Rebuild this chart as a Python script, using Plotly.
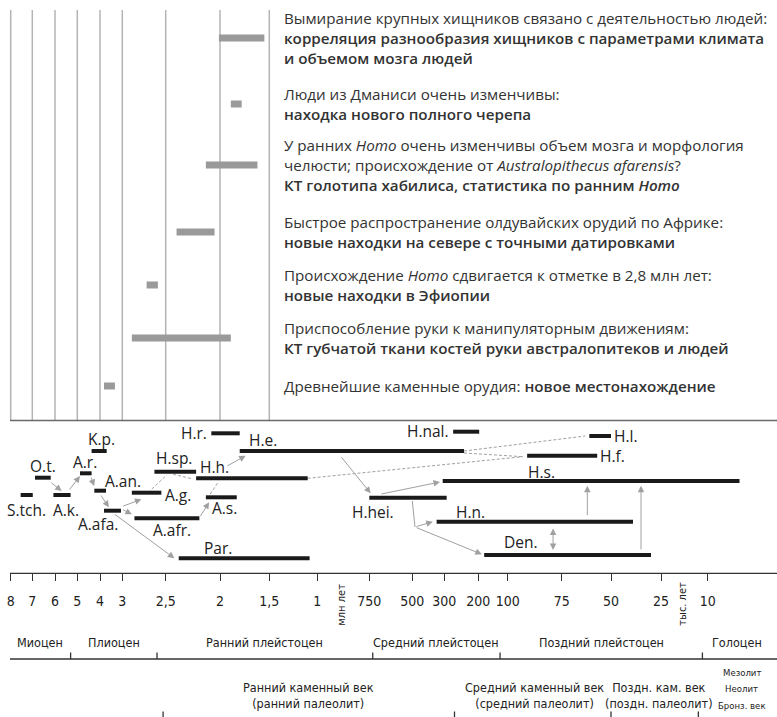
import numpy as np
import plotly.graph_objects as go

W, H = 777, 717

# ---------------- scale (ages in Ma) ----------------
tick_ages = [8, 7, 6, 5, 4, 3, 2.5, 2, 1.5, 1, 0.75, 0.5, 0.3, 0.2, 0.1, 0.075, 0.05, 0.025, 0.01]
tick_labels = ["8", "7", "6", "5", "4", "3", "2,5", "2", "1,5", "1",
               "750", "500", "300", "200", "100", "75", "50", "25", "10"]
grid_ages = [8, 7, 6, 5, 4, 3, 2.5, 2, 1.5]

# ---------------- events (top panel) ----------------
event_start = [2.01, 1.89, 2.13, 2.40, 2.72, 2.89, 3.82]
event_end = [1.55, 1.78, 1.62, 2.05, 2.59, 1.89, 3.33]
B = '<span style="font-weight:600">'
E = '</span>'
event_text = [
    "Вымирание крупных хищников связано с деятельностью людей:<br>" + B + "корреляция разнообразия хищников с параметрами климата" + E + "<br>" + B + "и объемом мозга людей" + E,
    "Люди из Дманиси очень изменчивы:<br>" + B + "находка нового полного черепа" + E,
    "У ранних <i>Homo</i> очень изменчивы объем мозга и морфология<br>челюсти; происхождение от <i>Australopithecus afarensis</i>?<br>" + B + "КТ голотипа хабилиса, статистика по ранним <i>Homo</i>" + E,
    "Быстрое распространение олдувайских орудий по Африке:<br>" + B + "новые находки на севере с точными датировками" + E,
    "Происхождение <i>Homo</i> сдвигается к отметке в 2,8 млн лет:<br>" + B + "новые находки в Эфиопии" + E,
    "Приспособление руки к манипуляторным движениям:<br>" + B + "КТ губчатой ткани костей руки австралопитеков и людей" + E,
    "Древнейшие каменные орудия: " + B + "новое местонахождение" + E,
]

# ---------------- species ranges ----------------
species = ["S.tch.", "O.t.", "A.k.", "A.r.", "K.p.", "A.an.", "A.afa.", "A.g.", "A.afr.", "Par.",
           "H.sp.", "H.h.", "A.s.", "H.r.", "H.e.", "H.hei.", "H.nal.", "H.n.", "Den.", "H.s.",
           "H.f.", "H.l."]
sp_start = [7.54, 6.88, 6.07, 4.88, 4.37, 4.25, 3.82, 2.89, 2.86, 2.38,
            2.63, 2.22, 2.13, 2.08, 1.80, 0.75, 0.274, 0.348, 0.180, 0.31,
            0.091, 0.061]
sp_end = [6.98, 6.19, 5.30, 4.37, 3.70, 3.73, 3.06, 2.55, 2.19, 1.08,
          2.22, 1.10, 1.83, 1.80, 0.242, 0.293, 0.197, 0.039, 0.030, 0.0,
          0.057, 0.050]

# ---------------- epochs & stone ages ----------------
epoch_names = ["Миоцен", "Плиоцен", "Ранний плейстоцен", "Средний плейстоцен",
               "Поздний плейстоцен", "Голоцен"]
epoch_bounds = [5.3, 2.6, 0.73, 0.126, 0.0117]
stone_names = ["Ранний каменный век<br>(ранний палеолит)",
               "Средний каменный век<br>(средний палеолит)",
               "Поздн. кам. век<br>(поздн. палеолит)"]
stone_bounds = [2.53, 0.27, 0.05, 0.013]
late_periods = ["Мезолит", "Неолит", "Бронз. век"]

# ---------------- layout helpers (positions) ----------------
tick_pos = [10.7, 32.3, 55, 77.3, 100, 122.3, 165.7, 220, 269.3, 317.3, 369.3,
            412.3, 444.3, 478.3, 507.7, 561.7, 611, 661, 707.7]
present_pos = 739.5


def pos(age):
    xp = -np.array(tick_ages + [0.0])
    fp = np.array(tick_pos + [present_pos])
    return float(np.interp(-age, xp, fp))


event_y = [38, 104, 165, 232, 285, 338, 386]
sp_y = [495, 477.7, 495, 473.3, 451, 490.7, 510.7, 492.7, 518.3, 558.3,
        471.7, 478.3, 497.3, 433.3, 451, 497.7, 431.7, 521.7, 555, 481,
        455.7, 436]
# label placement: (x, y, xanchor)
sp_label = [(26.3, 510, "center"), (42.8, 465.7, "center"), (65.8, 510, "center"),
            (85, 461.7, "center"), (101.7, 439, "center"), (123, 480.7, "center"),
            (98, 524, "center"), (178, 495, "center"), (172, 530, "center"),
            (217.5, 548, "center"), (174, 458.3, "center"), (214, 466.7, "center"),
            (224, 507.7, "center"), (208.5, 433, "right"), (263, 440, "center"),
            (373, 512, "center"), (451, 431, "right"), (470.5, 511.7, "center"),
            (521, 541.7, "center"), (541, 471.7, "center"), (598, 456, "left"),
            (612, 436, "left")]

# arrows: (from_age, from_y, to_age, to_y, kind)
arrows = [
    (6.22, 481.7, 5.70, 491, "solid"),
    (5.40, 491, 4.88, 476, "solid"),
    (4.41, 476, 4.26, 486, "solid"),
    (4.00, 494, 3.60, 507.3, "solid"),
    (3.03, 506.7, 2.78, 499.3, "solid"),
    (3.03, 509, 2.89, 514.3, "solid"),
    (3.40, 513.3, 2.42, 558.3, "solid"),
    (2.19, 517.7, 2.10, 502.3, "solid"),
    (1.94, 466.7, 1.74, 455.7, "solid"),
    (0.89, 455.7, 0.742, 493.3, "solid"),
    (0.688, 494.3, 0.327, 482, "solid"),
    (0.483, 527, 0.372, 521.7, "solid"),
    (0.483, 527, 0.188, 554.3, "solid"),
    (0.062, 516.7, 0.062, 485.7, "solid"),
    (0.035, 551, 0.035, 485.7, "solid"),
    (0.079, 527, 0.079, 550, "double"),
    (2.66, 489, 2.49, 475, "dashed"),
    (2.43, 474.3, 2.25, 479, "dashed"),
    (2.09, 494, 2.02, 482.7, "dashed"),
    (1.10, 478.3, 0.093, 456.7, "dashed"),
    (0.242, 453, 0.093, 456.7, "dashed"),
    (0.242, 451, 0.063, 436, "dashed"),
    (0.50, 501, 0.483, 527, "line"),
]

TXT_FONT = "'Open Sans', 'Noto Sans', sans-serif"
AX_FONT = "'Liberation Sans Narrow', 'DejaVu Sans Condensed', 'Roboto', sans-serif"
GRAY = "#9a9a9a"
ARROW = "#a0a0a0"

fig = go.Figure()
shapes = []
annotations = []

# top panel grid lines
for a in grid_ages:
    shapes.append(dict(type="line", xref="x", yref="y", x0=pos(a), x1=pos(a), y0=10, y1=420,
                       line=dict(color="#b4b4b4", width=1.5), layer="below"))
shapes.append(dict(type="line", xref="x", yref="y", x0=pos(8) - 0.7, x1=W, y0=420.5, y1=420.5,
                   line=dict(color="#6a6a6a", width=1.5)))

# event bars
ex, ey = [], []
for s, e, y in zip(event_start, event_end, event_y):
    ex += [pos(s), pos(e), None]
    ey += [y, y, None]
fig.add_trace(go.Scatter(x=ex, y=ey, mode="lines", line=dict(color=GRAY, width=7),
                         hoverinfo="skip", showlegend=False))
for t, y in zip(event_text, event_y):
    annotations.append(dict(x=282, y=y, xref="x", yref="y", text=t, showarrow=False,
                            xanchor="left", yanchor="middle", align="left",
                            font=dict(family=TXT_FONT, size=15.2, color="#333")))

# arrows
for a0, y0, a1, y1, kind in arrows:
    x0, x1 = pos(a0), pos(a1)
    if kind in ("dashed", "line"):
        fig.add_trace(go.Scatter(x=[x0, x1], y=[y0, y1], mode="lines",
                                 line=dict(color=ARROW, width=1, dash="3px,2px" if kind == "dashed" else "solid"),
                                 hoverinfo="skip", showlegend=False))
        if kind == "dashed":
            d = np.hypot(x1 - x0, y1 - y0)
            ux, uy = (x1 - x0) / d, (y1 - y0) / d
            annotations.append(dict(x=x1, y=y1, ax=x1 - 2 * ux, ay=y1 - 2 * uy, xref="x", yref="y",
                                    axref="x", ayref="y", text="", showarrow=True, arrowhead=2,
                                    arrowsize=1.3, arrowwidth=1, arrowcolor=ARROW, standoff=0))
    else:
        annotations.append(dict(x=x1, y=y1, ax=x0, ay=y0, xref="x", yref="y", axref="x", ayref="y",
                                text="", showarrow=True, arrowhead=2, arrowsize=1.3, arrowwidth=1,
                                arrowcolor=ARROW, standoff=0, startstandoff=0,
                                arrowside="end+start" if kind == "double" else "end",
                                startarrowhead=2, startarrowsize=1.3))

# species bars
bx, by = [], []
for s, e, y in zip(sp_start, sp_end, sp_y):
    bx += [pos(s), pos(e), None]
    by += [y, y, None]
fig.add_trace(go.Scatter(x=bx, y=by, mode="lines", line=dict(color="#1a1a1a", width=4),
                         hoverinfo="skip", showlegend=False))
for name, (lx, ly, anc) in zip(species, sp_label):
    annotations.append(dict(x=lx, y=ly, xref="x", yref="y", text=name, showarrow=False,
                            xanchor=anc, yanchor="middle",
                            font=dict(family=TXT_FONT, size=15.5, color="#222")))

# time axis line
shapes.append(dict(type="line", xref="x", yref="y", x0=pos(8) - 0.7, x1=W, y0=573.3, y1=573.3,
                   line=dict(color="#333", width=1.3)))
annotations.append(dict(x=340.7, y=605, xref="x", yref="y", text="млн лет", textangle=-90,
                        showarrow=False, font=dict(family=AX_FONT, size=11, color="#222")))
annotations.append(dict(x=681.7, y=604, xref="x", yref="y", text="тыс. лет", textangle=-90,
                        showarrow=False, font=dict(family=AX_FONT, size=11, color="#222")))

# epochs
shapes.append(dict(type="line", xref="x", yref="y", x0=pos(8) - 0.7, x1=W, y0=659, y1=659,
                   line=dict(color="#333", width=1.3)))
eb = [pos(8) - 0.7] + [pos(b) for b in epoch_bounds] + [W]
for b in epoch_bounds:
    shapes.append(dict(type="line", xref="x", yref="y", x0=pos(b), x1=pos(b), y0=652.5, y1=659,
                       line=dict(color="#333", width=1.3)))
for i, name in enumerate(epoch_names):
    cx = (eb[i] + eb[i + 1]) / 2 if i < len(epoch_names) - 1 else (eb[i] + eb[i + 1] - 6) / 2
    annotations.append(dict(x=cx, y=642, xref="x", yref="y", text=name, showarrow=False,
                            font=dict(family=AX_FONT, size=12.5, color="#222")))

# stone ages
sb = [pos(b) for b in stone_bounds]
for x in sb:
    shapes.append(dict(type="line", xref="x", yref="y", x0=x, x1=x, y0=711.5, y1=H,
                       line=dict(color="#333", width=1.3)))
stone_cx = [(sb[0] + sb[1]) / 2, (sb[1] + sb[2]) / 2 + 2, (sb[2] + sb[3]) / 2 + 4]
for name, cx in zip(stone_names, stone_cx):
    annotations.append(dict(x=cx, y=695, xref="x", yref="y", text=name, showarrow=False,
                            align="center", font=dict(family=AX_FONT, size=12.5, color="#222")))
late_y = [672, 688.5, 705]
for name, y in zip(late_periods, late_y):
    annotations.append(dict(x=(sb[3] + W) / 2 + 4, y=y, xref="x", yref="y", text=name,
                            showarrow=False, font=dict(family=AX_FONT, size=9.5, color="#222")))

fig.update_layout(
    width=W, height=H, margin=dict(l=0, r=0, t=0, b=0),
    paper_bgcolor="white", plot_bgcolor="white",
    shapes=shapes, annotations=annotations, showlegend=False,
    xaxis=dict(range=[0, W], showgrid=False, zeroline=False, showline=False,
               tickvals=[pos(a) for a in tick_ages], ticktext=tick_labels,
               ticks="outside", ticklen=7, tickwidth=1.3, tickcolor="#333",
               anchor="free", position=1 - 573.3 / H, ticklabelstandoff=8,
               tickfont=dict(family=AX_FONT, size=14, color="#222"), fixedrange=True),
    yaxis=dict(range=[H, 0], visible=False, fixedrange=True),
)

fig.write_html("out.html", config={"displayModeBar": False},
               post_script="document.body.style.margin='0';document.body.style.overflow='hidden';")
